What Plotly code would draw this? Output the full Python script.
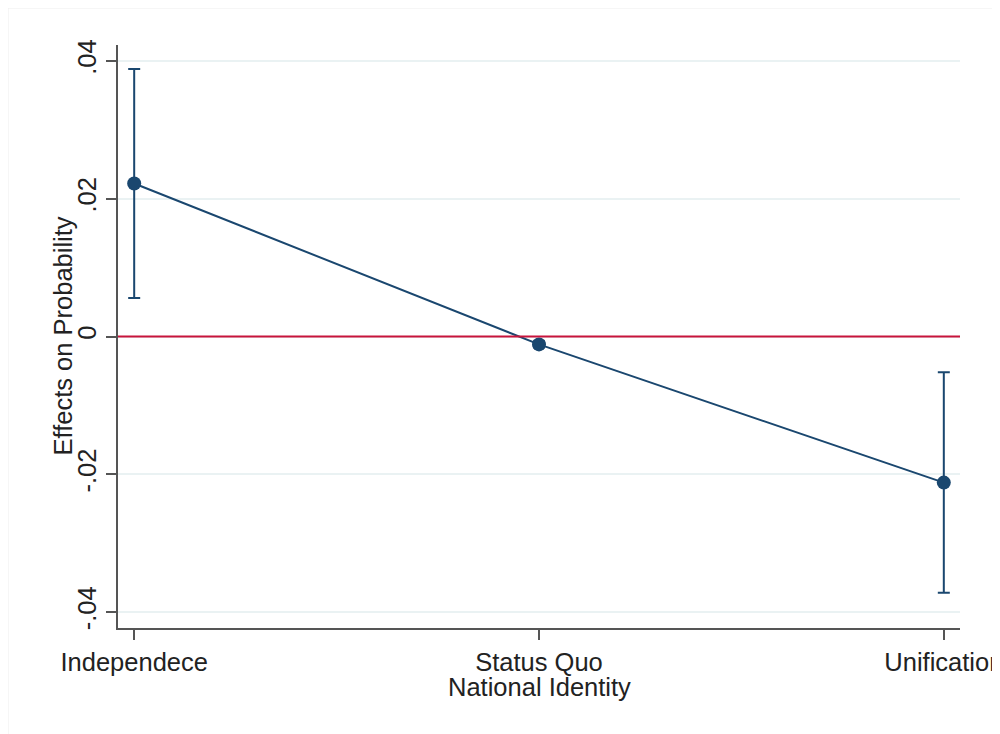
import plotly.graph_objects as go

categories = ["Independece", "Status Quo", "Unification"]
effects = [0.0222, -0.00115, -0.0212]
ci_upper = [0.0388, -0.0007, -0.0052]
ci_lower = [0.0056, -0.0016, -0.0372]
y_ticks = [-0.04, -0.02, 0, 0.02, 0.04]
y_tick_labels = ["-.04", "-.02", "0", ".02", ".04"]

navy = "#1a476f"
font_family = "Liberation Sans, Arial, sans-serif"

W, H = 1000, 734
L, R, T, B = 110, 48, 37, 114
PW, PH = W - L - R, H - T - B

x_pos = list(range(len(categories)))
err_plus = [u - e for u, e in zip(ci_upper, effects)]
err_minus = [e - l for e, l in zip(effects, ci_lower)]

fig = go.Figure()
fig.add_trace(go.Scatter(
    x=x_pos, y=effects, mode="lines+markers",
    line=dict(color=navy, width=2),
    marker=dict(color=navy, size=14, symbol="circle"),
    error_y=dict(type="data", symmetric=False, array=err_plus, arrayminus=err_minus,
                 color=navy, thickness=2, width=6),
    showlegend=False,
))

# zero reference line
fig.add_shape(type="line", xref="paper", yref="y", x0=0, x1=1, y0=0, y1=0,
              line=dict(color="#c8143c", width=2), layer="above")

# faint outer frame
fig.add_shape(type="rect", xref="paper", yref="paper",
              x0=-L / PW, x1=1 + R / PW, y0=-B / PH, y1=1 + T / PH,
              line=dict(color="#eeeeee", width=1))

# axis titles
fig.add_annotation(text="National Identity", xref="paper", yref="paper",
                   x=0.5, y=-59 / PH, xanchor="center", yanchor="middle",
                   showarrow=False, font=dict(size=25.5))
fig.add_annotation(text="Effects on Probability", xref="paper", yref="paper",
                   x=-56 / PW, y=0.5, xanchor="center", yanchor="middle", textangle=-90,
                   showarrow=False, font=dict(size=25.5))

fig.update_layout(
    width=W, height=H,
    margin=dict(l=L, r=R, t=T, b=B, autoexpand=False),
    paper_bgcolor="white", plot_bgcolor="white",
    font=dict(family=font_family, size=25.5, color="#222222"),
)
fig.update_xaxes(
    range=[-0.04, 2.04], tickmode="array", tickvals=x_pos, ticktext=categories,
    showgrid=False, zeroline=False, showline=True, linecolor="#555555", linewidth=2,
    ticks="outside", ticklen=10, tickwidth=2, tickcolor="#555555",
    automargin=False, ticklabeloverflow="allow",
)
fig.update_yaxes(
    range=[-0.0423, 0.0423], tickmode="array", tickvals=y_ticks, ticktext=y_tick_labels,
    tickangle=-90, showgrid=True, gridcolor="#eaf2f3", gridwidth=2, zeroline=False,
    showline=True, linecolor="#555555", linewidth=2,
    ticks="outside", ticklen=10, tickwidth=2, tickcolor="#555555",
    automargin=False,
)

fig.write_html("out.html")
